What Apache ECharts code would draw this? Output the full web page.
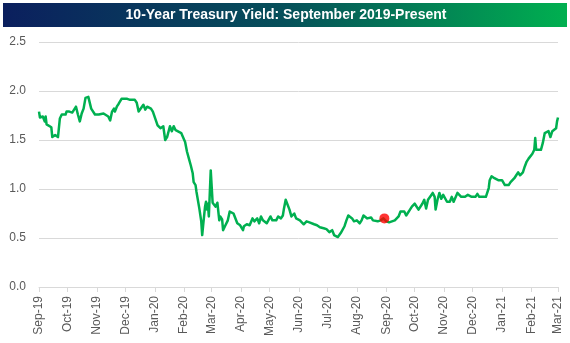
<!DOCTYPE html>
<html>
<head>
<meta charset="utf-8">
<script src="https://cdn.jsdelivr.net/npm/echarts@6/dist/echarts.min.js"></script>
<style>html,body{margin:0;padding:0;background:#fff}#c{width:570px;height:343px}</style>
</head>
<body>
<div id="c"></div>
<script>
const titleText = '10-Year Treasury Yield: September 2019-Present';

const dates = [
'2019-09-01','2019-09-02','2019-09-04','2019-09-05','2019-09-07','2019-09-08','2019-09-09','2019-09-11','2019-09-14','2019-09-15','2019-09-18','2019-09-20','2019-09-21','2019-09-23','2019-09-25','2019-09-27','2019-09-29','2019-09-30',
'2019-10-02','2019-10-03','2019-10-06','2019-10-08','2019-10-10','2019-10-12','2019-10-14','2019-10-16','2019-10-18','2019-10-20','2019-10-22','2019-10-23','2019-10-26','2019-10-28','2019-10-30',
'2019-11-01','2019-11-03','2019-11-05','2019-11-08','2019-11-10','2019-11-13','2019-11-15','2019-11-17','2019-11-19','2019-11-20','2019-11-22','2019-11-24','2019-11-25','2019-11-27','2019-11-29',
'2019-12-03','2019-12-06','2019-12-08','2019-12-11','2019-12-13','2019-12-15','2019-12-17','2019-12-20','2019-12-22','2019-12-24','2019-12-26','2019-12-28','2019-12-30',
'2020-01-01','2020-01-04','2020-01-07','2020-01-10','2020-01-12','2020-01-14','2020-01-17','2020-01-19','2020-01-21','2020-01-23','2020-01-25','2020-01-29','2020-01-31',
'2020-02-02','2020-02-04','2020-02-06','2020-02-08','2020-02-10','2020-02-11','2020-02-13','2020-02-14','2020-02-17','2020-02-19','2020-02-20','2020-02-21','2020-02-23','2020-02-24','2020-02-25','2020-02-26','2020-02-27','2020-02-29',
'2020-03-02','2020-03-05','2020-03-07','2020-03-09','2020-03-10','2020-03-12','2020-03-13','2020-03-15','2020-03-18','2020-03-20','2020-03-24','2020-03-26','2020-03-28','2020-03-31',
'2020-04-01','2020-04-03','2020-04-04','2020-04-07','2020-04-10','2020-04-13','2020-04-15','2020-04-18','2020-04-20','2020-04-22','2020-04-24','2020-04-26','2020-04-28',
'2020-05-02','2020-05-04','2020-05-06','2020-05-08','2020-05-10','2020-05-13','2020-05-15','2020-05-16','2020-05-18','2020-05-20','2020-05-22','2020-05-24','2020-05-27','2020-05-29','2020-05-31',
'2020-06-02','2020-06-04','2020-06-06','2020-06-09','2020-06-12','2020-06-14','2020-06-17','2020-06-20','2020-06-23','2020-06-27','2020-06-30',
'2020-07-03','2020-07-06','2020-07-08','2020-07-10','2020-07-12','2020-07-15','2020-07-17','2020-07-19','2020-07-21','2020-07-23','2020-07-25','2020-07-27','2020-07-29',
'2020-08-01','2020-08-04','2020-08-06','2020-08-08','2020-08-10','2020-08-12','2020-08-14','2020-08-16','2020-08-18','2020-08-20','2020-08-23','2020-08-26','2020-08-29','2020-08-30',
'2020-09-01','2020-09-04','2020-09-07','2020-09-10','2020-09-14','2020-09-16','2020-09-18','2020-09-20','2020-09-22','2020-09-24','2020-09-26','2020-09-28',
'2020-10-01','2020-10-03','2020-10-05','2020-10-07','2020-10-09','2020-10-11','2020-10-13','2020-10-15','2020-10-17','2020-10-20','2020-10-22','2020-10-23','2020-10-25','2020-10-27','2020-10-29','2020-10-31',
'2020-11-02','2020-11-04','2020-11-07','2020-11-09','2020-11-11','2020-11-13','2020-11-15','2020-11-17','2020-11-19','2020-11-21','2020-11-23','2020-11-26','2020-11-28','2020-11-30',
'2020-12-02','2020-12-04','2020-12-06','2020-12-08','2020-12-10','2020-12-12','2020-12-15','2020-12-17','2020-12-18','2020-12-19','2020-12-21','2020-12-22','2020-12-24','2020-12-26','2020-12-28','2020-12-30',
'2021-01-01','2021-01-04','2021-01-06','2021-01-08','2021-01-10','2021-01-12','2021-01-14','2021-01-16','2021-01-18','2021-01-20','2021-01-23','2021-01-25','2021-01-27','2021-01-29','2021-01-31',
'2021-02-02','2021-02-04','2021-02-05','2021-02-06','2021-02-08','2021-02-11','2021-02-13','2021-02-15','2021-02-17','2021-02-19','2021-02-21','2021-02-23','2021-02-25','2021-02-27','2021-02-28','2021-03-01'
];

const yields = [
1.79,1.73,1.72,1.74,1.69,1.74,1.66,1.66,1.63,1.53,1.55,1.54,1.53,1.72,1.76,1.77,1.76,1.79,
1.77,1.79,1.78,1.79,1.84,1.76,1.69,1.77,1.82,1.93,1.95,1.94,1.82,1.82,1.76,
1.77,1.76,1.74,1.77,1.76,1.74,1.70,1.79,1.82,1.79,1.84,1.87,1.85,1.92,1.93,
1.92,1.91,1.89,1.91,1.88,1.79,1.81,1.86,1.81,1.84,1.82,1.82,1.79,
1.77,1.65,1.62,1.64,1.50,1.53,1.64,1.59,1.64,1.60,1.59,1.57,1.55,
1.48,1.38,1.31,1.24,1.16,1.07,1.04,0.97,0.80,0.67,0.53,0.63,0.82,0.87,0.79,0.85,0.72,1.19,
0.86,0.82,0.86,0.68,0.72,0.69,0.58,0.62,0.68,0.77,0.75,0.77,0.65,0.63,
0.62,0.58,0.62,0.64,0.63,0.70,0.67,0.70,0.65,0.72,0.68,0.70,0.65,
0.72,0.68,0.70,0.68,0.72,0.70,0.73,0.79,0.89,0.87,0.79,0.72,0.75,0.70,0.71,
0.68,0.70,0.64,0.67,0.66,0.64,0.64,0.63,0.61,0.60,0.59,
0.56,0.58,0.53,0.55,0.51,0.55,0.55,0.62,0.68,0.73,0.71,0.70,0.67,
0.68,0.65,0.68,0.73,0.75,0.70,0.68,0.71,0.68,0.70,0.67,0.68,0.70,0.70,
0.67,0.66,0.67,0.68,0.72,0.77,0.79,0.77,0.73,0.75,0.79,0.82,
0.85,0.83,0.79,0.80,0.85,0.89,0.80,0.89,0.87,0.96,0.92,0.79,0.89,0.96,0.90,0.94,
0.92,0.87,0.87,0.92,0.87,0.89,0.96,0.97,0.92,0.90,0.92,0.94,0.96,0.92,
0.94,0.92,0.95,0.92,0.93,0.92,0.92,0.94,1.01,1.09,1.13,1.14,1.11,1.11,1.09,1.10,
1.09,1.04,1.02,1.04,1.07,1.09,1.11,1.14,1.17,1.14,1.17,1.23,1.28,1.31,1.33,
1.36,1.40,1.52,1.40,1.42,1.40,1.47,1.57,1.57,1.59,1.53,1.59,1.60,1.62,1.69,1.73
];

const highlightDate = '2020-08-30';
const highlightValue = 0.70;

const tickDates = ['2019-09-01','2019-10-01','2019-11-01','2019-12-01','2020-01-01','2020-02-01','2020-03-01','2020-04-01','2020-05-01','2020-06-01','2020-07-01','2020-08-01','2020-09-01','2020-10-01','2020-11-01','2020-12-01','2021-01-01','2021-02-01','2021-03-01'];
const tickLabels = ['Sep-19','Oct-19','Nov-19','Dec-19','Jan-20','Feb-20','Mar-20','Apr-20','May-20','Jun-20','Jul-20','Aug-20','Sep-20','Oct-20','Nov-20','Dec-20','Jan-21','Feb-21','Mar-21'];
const yTicks = [0, 0.5, 1.0, 1.5, 2.0, 2.5];

const DAY = 86400000;
const ts = s => { const p = s.split('-').map(Number); return Date.UTC(p[0], p[1]-1, p[2]) / DAY; };
const tickTs = tickDates.map(ts);
const labelMap = {};
tickTs.forEach((t, i) => { labelMap[t] = tickLabels[i]; });

const chart = echarts.init(document.getElementById('c'), null, {renderer: 'canvas'});
chart.setOption({
  animation: false,
  textStyle: {fontFamily: 'Liberation Sans'},
  graphic: [
    {type: 'rect', shape: {x: 3, y: 3, width: 564, height: 24}, silent: true,
     style: {fill: new echarts.graphic.LinearGradient(0, 0, 1, 0, [
       {offset: 0, color: '#0b1f5e'}, {offset: 0.5, color: '#06505a'}, {offset: 1, color: '#00b050'}])}},
    {type: 'text', x: 286, y: 15, silent: true,
     style: {text: titleText, fill: '#ffffff', font: 'bold 14px "Liberation Sans"', align: 'center', verticalAlign: 'middle'}}
  ],
  grid: {left: 39, right: 12, top: 42, bottom: 56, containLabel: false},
  xAxis: {
    type: 'value',
    min: tickTs[0], max: tickTs[tickTs.length-1],
    axisLine: {show: true, lineStyle: {color: '#d9d9d9', width: 1}},
    axisTick: {show: true, customValues: tickTs, length: 5, lineStyle: {color: '#d9d9d9'}},
    splitLine: {show: false},
    axisLabel: {customValues: tickTs, rotate: 90, margin: 9, color: '#595959', fontSize: 12,
      fontFamily: 'Liberation Sans', formatter: v => labelMap[v] || ''}
  },
  yAxis: {
    type: 'value', min: yTicks[0], max: yTicks[yTicks.length-1], interval: 0.5,
    axisLine: {show: false}, axisTick: {show: false},
    splitLine: {lineStyle: {color: '#d9d9d9', width: 1}},
    axisLabel: {color: '#595959', fontSize: 12, margin: 13, fontFamily: 'Liberation Sans', formatter: v => v.toFixed(1)}
  },
  series: [
    {type: 'line', data: dates.map((d, i) => [ts(d), yields[i]]), showSymbol: false, symbol: 'none',
     lineStyle: {color: '#00b050', width: 2.5, join: 'round'}, z: 2},
    {type: 'scatter', data: [[ts(highlightDate), highlightValue]], symbol: 'circle', symbolSize: 10,
     itemStyle: {color: '#ff0000'}, z: 3}
  ]
});
</script>
</body>
</html>
